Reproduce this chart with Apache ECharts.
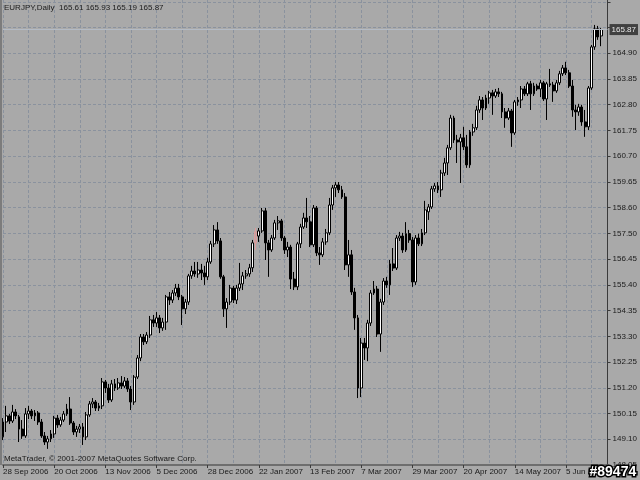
<!DOCTYPE html>
<html><head><meta charset="utf-8">
<script src="https://cdn.jsdelivr.net/npm/echarts@6.0.0/dist/echarts.min.js"></script>
<style>html,body{margin:0;padding:0;background:#a9a9a9;}#c{width:640px;height:480px;}</style>
</head><body><div id="c"></div>
<script>
const symbolName = 'EURJPY,Daily';
const copyrightText = 'MetaTrader, \u00a9 2001-2007 MetaQuotes Software Corp.';
const watermarkText = '#89474';
const dateLabels = ['28 Sep 2006','20 Oct 2006','13 Nov 2006','5 Dec 2006','28 Dec 2006','22 Jan 2007','13 Feb 2007','7 Mar 2007','29 Mar 2007','20 Apr 2007','14 May 2007','5 Jun 2007'];
const priceLabels = ['148.05','149.10','150.15','151.20','152.25','153.30','154.35','155.40','156.45','157.50','158.60','159.65','160.70','161.75','162.80','163.85','164.90'];

const opens = [149.20,149.81,150.06,149.85,150.22,150.02,149.52,149.24,150.14,150.26,
150.06,150.18,149.81,149.24,148.99,149.12,149.32,149.97,149.69,149.89,
150.14,150.34,149.77,149.40,149.52,149.61,149.20,150.10,150.55,150.63,
150.38,150.47,151.45,151.20,150.71,151.37,151.20,151.41,151.28,151.49,
151.16,150.63,151.65,152.43,153.29,153.09,153.37,153.99,153.86,154.07,
153.66,153.90,154.93,154.80,155.09,155.29,154.93,154.44,154.72,155.79,
155.99,155.87,156.03,155.91,155.75,156.36,157.10,157.67,157.22,155.75,
154.44,154.72,155.29,154.80,155.29,155.46,155.79,155.87,156.12,157.14,
157.42,157.63,158.45,157.14,156.85,157.34,157.96,158.04,157.34,156.85,
156.97,155.66,155.34,157.10,157.79,158.16,158.00,157.06,158.57,156.73,
156.65,157.18,157.55,158.69,159.39,159.51,159.31,159.02,156.24,156.65,
155.13,154.07,151.20,153.04,152.84,153.86,155.09,155.25,153.41,154.72,
155.58,155.42,156.28,156.11,157.34,157.42,156.85,157.52,157.26,155.54,
157.34,157.10,157.55,158.41,158.61,159.35,159.47,159.31,160.00,160.41,
161.03,162.25,161.35,161.27,161.44,161.07,160.33,161.68,161.85,162.58,
162.99,162.66,163.07,163.28,163.15,163.32,163.24,162.50,162.25,162.54,
161.64,162.91,162.99,163.44,163.24,163.65,163.24,163.56,163.44,163.69,
163.03,163.65,163.60,163.36,163.69,164.06,164.30,164.10,163.56,162.58,
162.50,162.70,162.09,161.89,163.48,165.16,165.90,165.61];

const closes = [149.81,150.06,149.85,150.22,150.06,149.52,149.24,150.14,150.26,150.06,
150.18,149.81,149.24,148.99,149.12,149.32,149.97,149.69,149.89,150.14,
150.34,149.77,149.40,149.52,149.61,149.20,150.10,150.55,150.63,150.38,
150.47,151.45,151.20,150.71,151.37,151.20,151.41,151.28,151.49,151.16,
150.63,151.65,152.43,153.29,153.09,153.37,153.99,153.86,154.07,153.66,
153.90,154.93,154.80,155.09,155.29,154.93,154.44,154.72,155.79,155.99,
155.87,156.03,155.91,155.75,156.36,157.10,157.67,157.22,155.75,154.44,
154.72,155.29,154.80,155.29,155.46,155.79,155.87,156.12,157.14,157.59,
157.63,158.45,157.14,156.85,157.34,157.96,158.04,157.34,156.85,156.97,
155.66,155.34,157.10,157.79,158.16,158.00,157.06,158.57,156.73,156.65,
157.18,157.55,158.69,159.39,159.51,159.31,159.02,156.24,156.65,155.13,
154.07,151.20,153.04,152.84,153.86,155.09,155.25,153.41,154.72,155.58,
155.42,156.28,156.11,157.34,157.42,156.85,157.52,157.26,155.54,157.34,
157.10,157.55,158.49,158.61,159.35,159.47,159.31,160.00,160.41,161.03,
162.25,161.35,161.27,161.44,161.07,160.33,161.68,161.85,162.58,162.99,
162.66,163.07,163.28,163.15,163.32,163.24,162.50,162.25,162.54,161.64,
162.91,162.99,163.44,163.24,163.65,163.24,163.56,163.44,163.69,163.03,
163.65,163.60,163.36,163.69,164.06,164.30,164.10,163.56,162.58,162.50,
162.70,162.09,161.89,163.48,165.16,165.90,165.57,165.87];

const lows = [149.07,149.40,149.73,149.77,149.93,148.99,149.12,149.16,149.93,149.93,
149.85,149.69,149.16,148.87,148.71,148.99,149.16,149.57,149.61,149.81,
150.06,149.69,149.28,149.20,149.36,148.87,149.07,150.02,150.38,150.26,
150.26,150.34,151.00,150.59,150.63,151.08,151.12,151.16,151.20,151.04,
150.30,150.51,151.57,152.30,152.96,153.00,153.25,153.70,153.70,153.45,
153.54,153.58,154.60,154.68,154.97,154.80,153.78,154.23,154.60,155.67,
155.75,155.71,155.62,155.42,155.62,156.28,156.97,157.10,155.67,154.11,
153.66,154.60,154.68,154.64,155.17,155.21,155.67,155.75,155.95,156.85,
157.18,157.55,156.44,155.75,156.77,157.26,157.67,157.22,156.69,156.56,
155.25,155.21,155.21,156.93,157.71,157.75,156.97,156.97,156.60,156.24,
156.56,157.06,157.46,158.49,159.02,159.18,158.94,156.03,155.75,155.01,
153.58,150.79,150.83,152.35,152.30,153.74,155.01,153.29,152.68,154.60,
155.30,155.01,155.99,156.03,157.22,156.73,156.77,157.14,155.34,155.42,
157.01,157.01,157.46,158.08,158.53,159.23,159.18,159.02,159.88,159.92,
160.94,161.23,160.41,159.59,160.94,160.21,160.21,161.52,161.76,162.46,
162.17,162.58,162.83,162.38,163.07,163.11,162.25,161.85,162.17,161.07,
161.56,162.75,162.66,163.15,163.15,162.58,163.15,163.36,163.11,162.95,
162.17,163.52,162.91,163.28,163.60,163.97,164.01,163.48,162.30,161.76,
162.34,161.93,161.48,161.76,163.40,165.04,165.45,165.19];

const highs = [149.97,150.47,150.14,150.51,150.34,150.10,149.89,150.38,150.47,150.34,
150.30,150.26,149.93,149.40,149.24,149.48,150.06,150.10,150.02,150.26,
150.55,150.83,149.85,149.65,149.73,149.77,150.22,150.67,150.79,150.71,
150.59,151.61,151.53,151.37,151.53,151.57,151.61,151.69,151.65,151.61,
151.28,151.73,152.55,153.41,153.41,153.49,154.15,154.19,154.31,154.19,
154.07,155.01,155.13,155.21,155.46,155.46,155.01,154.84,155.87,156.20,
156.36,156.36,156.28,156.20,156.53,157.22,157.87,157.99,157.34,155.83,
154.88,155.42,155.38,155.42,156.32,155.95,156.03,156.28,157.26,157.75,
157.75,158.57,158.57,157.26,157.46,158.08,158.24,158.12,157.42,157.18,
157.06,155.95,157.18,157.92,158.37,158.98,158.24,158.69,158.65,156.97,
157.34,157.71,158.98,159.51,159.63,159.63,159.47,159.18,157.26,156.85,
155.30,154.19,153.25,153.25,153.99,155.21,155.58,155.38,154.85,155.70,
155.75,156.44,156.93,157.46,157.59,157.55,157.99,157.67,157.38,157.46,
157.52,157.71,158.86,158.73,159.47,159.59,159.63,160.13,160.62,161.15,
162.38,162.34,161.56,161.60,161.89,161.56,161.76,162.01,162.75,163.15,
163.11,163.20,163.36,163.40,163.44,163.48,163.32,162.66,162.66,162.62,
162.99,163.11,163.56,163.56,163.73,163.77,163.69,163.65,163.81,163.77,
163.73,164.26,163.73,163.81,164.18,164.42,164.55,164.22,163.81,162.79,
162.83,162.79,162.58,163.56,165.24,166.06,166.02,165.93];

// layout constants
const FONT = '"Liberation Sans", Arial, sans-serif';
const TXT = '#1a1a1a';
const GRIDC = '#8a929e';
const FS = 8;
const slotCount = 190;            // bars + empty shift space at right
const labelEvery = 16, gridEvery = 8;
const yMin = 148.05, yMax = 167.08, gridStep = 1.0531;
const highlightBar = 79;

const categories = Array.from({length: slotCount}, (_, i) => String(i));
const n = opens.length;
const seriesData = opens.map((o, i) => {
  const v = [o, closes[i], lows[i], highs[i]];
  if (i === highlightBar) {
    return {value: v, itemStyle: {color: '#bca6a6', color0: '#bca6a6', borderColor: '#dd9a9a', borderColor0: '#dd9a9a'}};
  }
  return v;
});
const last = n - 1;
const headerText = symbolName + '  ' + [opens[last], highs[last], lows[last], closes[last]].map(v => v.toFixed(2)).join(' ');
const isInt = v => Math.abs(v - Math.round(v)) < 1e-6;

const chart = echarts.init(document.getElementById('c'), null, {renderer: 'canvas', width: 640, height: 480});
chart.setOption({
  animation: false,
  backgroundColor: '#a9a9a9',
  grid: {left: 2, right: 32, top: 0, bottom: 15, containLabel: false},
  xAxis: {
    type: 'category', data: categories, boundaryGap: false,
    axisLine: {show: true, lineStyle: {color: '#6e6e6e', width: 2}},
    axisTick: {show: true, interval: i => i % labelEvery === 0, length: 3, lineStyle: {color: '#3a3a3a'}},
    axisLabel: {
      interval: i => i % labelEvery === 0,
      formatter: (v, i) => dateLabels[i / labelEvery] || '',
      align: 'left', margin: 3, color: TXT, fontSize: FS, fontFamily: FONT
    },
    splitLine: {show: true, interval: i => i % gridEvery === 0, lineStyle: {color: GRIDC, type: [3, 2], width: 1}}
  },
  yAxis: [
    {type: 'value', min: yMin, max: yMax, show: false, splitLine: {show: false}},
    {
      type: 'value', position: 'right', min: 0, max: (yMax - yMin) / gridStep, interval: 1,
      axisLine: {show: true, lineStyle: {color: '#3a3a3a', width: 1}},
      axisTick: {show: true, length: 3, lineStyle: {color: '#3a3a3a'}},
      axisLabel: {
        formatter: v => (isInt(v) && priceLabels[Math.round(v)]) ? priceLabels[Math.round(v)] : '',
        margin: 5, color: TXT, fontSize: FS, fontFamily: FONT, showMaxLabel: false
      },
      splitLine: {show: true, showMinLine: false, showMaxLine: false, lineStyle: {color: GRIDC, type: [3, 2], width: 1}}
    }
  ],
  series: [{
    type: 'candlestick', xAxisIndex: 0, yAxisIndex: 0,
    data: seriesData, barWidth: 2.4,
    itemStyle: {color: '#ffffff', color0: '#000000', borderColor: '#000000', borderColor0: '#000000', borderWidth: 1},
    markLine: {
      silent: true, symbol: ['none', 'none'], animation: false,
      data: [{yAxis: closes[last]}],
      lineStyle: {color: '#b4bbc5', type: 'solid', width: 1},
      label: {
        show: true, position: 'end', distance: 2,
        formatter: closes[last].toFixed(2),
        backgroundColor: '#404040', color: '#e8e8e8',
        fontSize: FS, fontFamily: FONT, padding: [2, 2, 1, 2]
      }
    }
  }],
  graphic: [
    {type: 'line', shape: {x1: 1, y1: 0, x2: 1, y2: 465}, style: {stroke: '#7c7c7c', lineWidth: 2}, z: 10},
    {type: 'text', left: 4, top: 4, style: {text: headerText, fill: TXT, font: FS + 'px ' + FONT}, z: 10},
    {type: 'text', left: 4, top: 455, style: {text: copyrightText, fill: TXT, font: FS + 'px ' + FONT}, z: 10},
    {type: 'text', left: 588, top: 464, style: {text: watermarkText, fill: '#ffffff', stroke: '#000000', lineWidth: 3, font: 'bold 14px ' + FONT}, z: 100}
  ]
});
</script></body></html>
